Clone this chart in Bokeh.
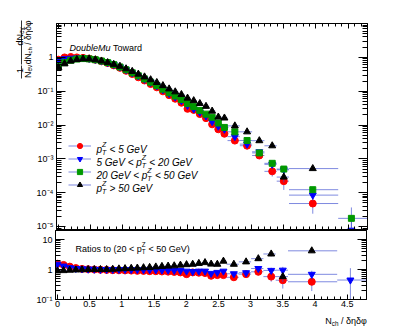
import math
import numpy as np
from bokeh.plotting import figure
from bokeh.layouts import column, row
from bokeh.models import (Range1d, FixedTicker, LogAxis, LinearAxis, Label, BoxAnnotation,
                          CustomJSTickFormatter, Legend, LegendItem, ColumnDataSource)
from bokeh.embed import file_html
from bokeh.resources import INLINE

# ---------------- data ----------------
x_center = [0.000, 0.095, 0.191, 0.286, 0.382, 0.477, 0.573, 0.668, 0.764, 0.859,
            0.955, 1.050, 1.146, 1.241, 1.337, 1.432, 1.528, 1.623, 1.719, 1.814,
            1.910, 2.005, 2.101, 2.196, 2.292, 2.387, 2.483, 2.578, 2.740, 2.930,
            3.120, 3.320, 3.500, 3.950, 4.550]
x_edges = [-0.048, 0.048, 0.143, 0.239, 0.334, 0.430, 0.525, 0.621, 0.716, 0.812,
           0.907, 1.003, 1.098, 1.194, 1.289, 1.385, 1.480, 1.576, 1.671, 1.767,
           1.862, 1.958, 2.053, 2.149, 2.244, 2.340, 2.435, 2.531, 2.626, 2.817,
           3.008, 3.199, 3.390, 3.581, 4.345, 4.823]

red_vals = [0.853, 0.994, 1.025, 0.997, 0.966, 0.918, 0.850, 0.764, 0.679, 0.580,
            0.489, 0.400, 0.322, 0.257, 0.207, 0.163, 0.130, 0.0989, 0.0765, 0.0598,
            0.0456, 0.0301, 0.0280, 0.0211, 0.0160, 0.0105, 0.00748, 0.00553, 0.00347, 0.00245,
            0.00126, 4.29e-4, 2.2e-4, 4.8e-5, float("nan")]
blue_vals = [0.825, 0.910, 0.943, 0.961, 0.966, 0.927, 0.867, 0.780, 0.700, 0.610,
             0.520, 0.430, 0.3465, 0.282, 0.225, 0.181, 0.1436, 0.110, 0.0855, 0.0670,
             0.0524, 0.0378, 0.0298, 0.0238, 0.0185, 0.0126, 0.0092, 0.00748, 0.00454, 0.00273,
             0.00162, 6.9e-4, 4.75e-4, 8.5e-5, 7.8e-6]
green_vals = [0.55, 0.70, 0.82, 0.89, 0.92, 0.90, 0.85, 0.78, 0.70, 0.61,
              0.52, 0.43, 0.35, 0.285, 0.23, 0.185, 0.148, 0.115, 0.090, 0.072,
              0.057, 0.043, 0.035, 0.027, 0.021, 0.017, 0.0115, 0.0085, 0.0063, 0.0035,
              0.0015, 7.4e-4, 5.0e-4, 1.23e-4, 1.75e-5]
black_vals = [0.495, 0.644, 0.779, 0.863, 0.902, 0.900, 0.850, 0.780, 0.700, 0.622,
              0.546, 0.460, 0.385, 0.319, 0.2645, 0.218, 0.1806, 0.146, 0.117, 0.0958,
              0.0798, 0.0624, 0.0525, 0.0432, 0.0357, 0.0258, 0.01725, 0.01615, 0.00945, 0.0063,
              0.00345, 0.00244, 2.9e-4, 5.17e-4, float("nan")]

red_rel = [0.02, 0.02, 0.02, 0.02, 0.02, 0.02, 0.02, 0.02, 0.02, 0.02,
           0.02, 0.02, 0.02, 0.025, 0.025, 0.03, 0.03, 0.035, 0.04, 0.045,
           0.05, 0.06, 0.07, 0.08, 0.09, 0.12, 0.14, 0.16, 0.12, 0.15,
           0.20, 0.30, 0.45, 0.50, 0.0]
blue_rel = [0.02, 0.02, 0.02, 0.02, 0.02, 0.02, 0.02, 0.02, 0.02, 0.02,
            0.02, 0.02, 0.02, 0.02, 0.025, 0.025, 0.03, 0.03, 0.035, 0.04,
            0.045, 0.05, 0.06, 0.07, 0.08, 0.10, 0.11, 0.12, 0.10, 0.12,
            0.15, 0.20, 0.25, 0.30, 1.00]
green_rel = [0.02, 0.02, 0.02, 0.02, 0.02, 0.02, 0.02, 0.02, 0.02, 0.02,
             0.02, 0.02, 0.02, 0.02, 0.02, 0.025, 0.025, 0.03, 0.03, 0.035,
             0.04, 0.045, 0.05, 0.06, 0.07, 0.08, 0.09, 0.10, 0.08, 0.10,
             0.12, 0.12, 0.15, 0.10, 1.10]
black_rel = [0.03, 0.03, 0.03, 0.03, 0.03, 0.03, 0.03, 0.03, 0.03, 0.03,
             0.03, 0.03, 0.03, 0.03, 0.03, 0.03, 0.035, 0.035, 0.04, 0.04,
             0.045, 0.05, 0.05, 0.06, 0.06, 0.07, 0.08, 0.08, 0.07, 0.08,
             0.09, 0.12, 0.30, 0.10, 0.0]

series_colors = ["#ff0000", "#0000ff", "#009900", "#000000"]
series_markers = ["circle", "inverted_triangle", "square", "triangle"]
series_sizes = [7, 7, 6, 7]

y_top_ticks = [1e-5, 1e-4, 1e-3, 1e-2, 1e-1, 1.0]
y_bot_ticks = [0.1, 1.0, 10.0]
x_ticks = [0.0, 0.5, 1.0, 1.5, 2.0, 2.5, 3.0, 3.5, 4.0, 4.5]

FONT = "Liberation Sans"
ERR_COLOR = "#3a4bd0"

# layout geometry (pixels)
LEFT_W = 33          # strip holding the y-axis title
FRAME_W = 311
BORDER_L = 22
BORDER_R = 40
TOP_B, TOP_H = 23, 206
BOT_H, BOT_B = 69, 13
TITLE_H = 16
TOTAL_H = TOP_B + TOP_H + 1 + BOT_H + BOT_B + TITLE_H

# ---------------- helpers ----------------
W = {' ': 278, '/': 278, '(': 333, ')': 333, '<': 584, '>': 584, 'G': 778, 'e': 556,
     'V': 667, 'p': 556, 'Z': 611, 'T': 611, 'R': 722, 'a': 556, 't': 278, 'i': 222,
     'o': 556, 's': 500, 'N': 722, 'c': 500, 'h': 556, 'd': 556, 'v': 500, 'D': 722,
     'u': 556, 'b': 556, 'l': 222, 'M': 833, 'w': 722, 'r': 333, 'φ': 620}


def tw(s, size):
    return sum(W.get(c, 556) for c in s) * size / 1000.0


def rich(fig, pieces, x, y, size, angle=0.0, align="left", style="normal", sub_dn=0.3):
    ax, ay = math.cos(angle), math.sin(angle)
    dx, dy = math.sin(angle), -math.cos(angle)

    def pw(p):
        if p[0] == "n":
            return tw(p[1], size)
        if p[0] == "sub":
            return tw(p[1], size * 0.7)
        return max(tw(p[1], size * 0.7), tw(p[2], size * 0.7)) + size * 0.05

    total = sum(pw(p) for p in pieces)
    pos = {"left": 0.0, "center": -total / 2.0, "right": -total}[align]

    def add(text, along, down, sz, st):
        lead = len(text) - len(text.lstrip(" "))
        along += tw(" " * lead, sz)
        text = text.strip(" ")
        if not text:
            return
        fig.add_layout(Label(x=x + ax * along + dx * down, y=y + ay * along + dy * down,
                             x_units="screen", y_units="screen", text=text, angle=angle,
                             text_font=FONT, text_font_size=f"{sz:.1f}px", text_font_style=st,
                             text_align="left", text_baseline="alphabetic", text_color="black"))

    for p in pieces:
        st = p[2] if (p[0] == "n" and len(p) > 2) else style
        if p[0] == "n":
            add(p[1], pos, 0.0, size, st)
        elif p[0] == "sub":
            add(p[1], pos, sub_dn * size, size * 0.7, style)
        else:
            add(p[1], pos, -0.45 * size, size * 0.7, style)
            add(p[2], pos, 0.32 * size, size * 0.7, style)
        pos += pw(p)


log_fmt = CustomJSTickFormatter(code="""
const e = Math.round(Math.log10(tick));
if (e === 0) return "1";
if (e === 1) return "10";
const m = {"-":"\\u207b","0":"\\u2070","1":"\\u00b9","2":"\\u00b2","3":"\\u00b3","4":"\\u2074",
           "5":"\\u2075","6":"\\u2076","7":"\\u2077","8":"\\u2078","9":"\\u2079"};
return "10" + String(e).split("").map(c => m[c]).join("");
""")
lin_fmt = CustomJSTickFormatter(code="return String(Math.round(tick*10)/10);")
no_fmt = CustomJSTickFormatter(code="return '';")


def log_minors(lo_exp, hi_exp):
    return [m * 10.0 ** e for e in range(lo_exp, hi_exp) for m in range(2, 10)]


x_minor = [round(0.1 * i, 2) for i in range(0, 48)]


def style_axis(axis, labels, maj, mnr):
    axis.major_tick_in = maj
    axis.major_tick_out = 0
    axis.minor_tick_in = mnr
    axis.minor_tick_out = 0
    axis.axis_line_color = "black"
    axis.major_tick_line_color = "black"
    axis.minor_tick_line_color = "black"
    axis.major_label_text_font = FONT
    axis.major_label_text_font_size = "9px"
    axis.major_label_text_color = "black"
    axis.major_label_standoff = 3 if labels else 0


def base_fig(yrange, fh, top, bottom):
    p = figure(x_range=Range1d(-0.03, 4.80), y_range=yrange, y_axis_type="log",
               frame_width=FRAME_W, frame_height=fh, min_border_left=BORDER_L,
               min_border_right=BORDER_R, min_border_top=top, min_border_bottom=bottom,
               toolbar_location=None, output_backend="svg")
    p.frame_align = False
    p.xgrid.visible = False
    p.ygrid.visible = False
    p.outline_line_color = "black"
    p.outline_line_alpha = 1.0
    p.background_fill_color = "white"
    p.border_fill_color = "white"
    return p


def text_fig(w, h):
    f = figure(x_range=Range1d(0, 1), y_range=Range1d(0, 1), frame_width=w, frame_height=h,
               min_border=0, toolbar_location=None, output_backend="svg",
               x_axis_location=None, y_axis_location=None)
    f.frame_align = False
    f.xgrid.visible = False
    f.ygrid.visible = False
    f.outline_line_color = None
    f.background_fill_color = "white"
    f.border_fill_color = "white"
    return f


def draw_series(p, xs, ys, rel, color, marker, size):
    ys = np.array(ys, dtype=float)
    err = ys * np.array(rel, dtype=float)
    lo = ys - err
    lo = np.where(lo > 0, lo, 1e-12)
    hi = ys + err
    src = ColumnDataSource(dict(x=xs, y=ys, x0=x_edges[:-1], x1=x_edges[1:], lo=lo, hi=hi))
    h = p.segment(x0="x0", y0="y", x1="x1", y1="y", source=src,
                  line_color=ERR_COLOR, line_alpha=0.65, line_width=1)
    p.segment(x0="x", y0="lo", x1="x", y1="hi", source=src,
              line_color=ERR_COLOR, line_alpha=0.65, line_width=1)
    s = p.scatter(x="x", y="y", source=src, marker=marker, size=size,
                  fill_color=color, line_color=color)
    return h, s


# ---------------- top panel ----------------
p1 = base_fig(Range1d(8.2e-6, 10.0), TOP_H, TOP_B, 1)
style_axis(p1.yaxis[0], True, 9, 5)
p1.yaxis[0].ticker = FixedTicker(ticks=y_top_ticks, minor_ticks=log_minors(-6, 1))
p1.yaxis[0].formatter = log_fmt
style_axis(p1.xaxis[0], False, 5, 3)
p1.xaxis[0].ticker = FixedTicker(ticks=x_ticks, minor_ticks=x_minor)
p1.xaxis[0].formatter = no_fmt
ra = LogAxis(ticker=FixedTicker(ticks=y_top_ticks, minor_ticks=log_minors(-6, 1)), formatter=no_fmt)
style_axis(ra, False, 9, 5)
p1.add_layout(ra, "right")
ta = LinearAxis(ticker=FixedTicker(ticks=x_ticks, minor_ticks=x_minor), formatter=no_fmt)
style_axis(ta, False, 5, 3)
p1.add_layout(ta, "above")

all_vals = [red_vals, blue_vals, green_vals, black_vals]
all_rel = [red_rel, blue_rel, green_rel, black_rel]
items = []
for vals, rel, col, mk, sz in zip(all_vals, all_rel, series_colors, series_markers, series_sizes):
    h, s = draw_series(p1, x_center, vals, rel, col, mk, sz)
    items.append(LegendItem(label=" ", renderers=[h, s]))

leg = Legend(items=items, location=(12, 38), glyph_width=23, glyph_height=13,
             label_height=13, label_width=0, label_text_font_size="1px", label_standoff=0,
             spacing=0, padding=0, margin=0, border_line_color=None,
             background_fill_alpha=0.0)
p1.add_layout(leg, "center")

FB = TOP_B + TOP_H       # image y of the top frame bottom
FL = LEFT_W + BORDER_L   # image x of the frame left

LS = 10.0
rows_y = [145, 158, 171, 184]
legend_pieces = [
    [("n", "p"), ("ss", "Z", "T"), ("n", " < 5 GeV")],
    [("n", "5 GeV < p"), ("ss", "Z", "T"), ("n", " < 20 GeV")],
    [("n", "20 GeV < p"), ("ss", "Z", "T"), ("n", " < 50 GeV")],
    [("n", "p"), ("ss", "Z", "T"), ("n", " > 50 GeV")],
]
for ry, pcs in zip(rows_y, legend_pieces):
    rich(p1, pcs, 95 - FL, FB - (ry + 0.35 * LS), LS, style="italic")

rich(p1, [("n", "DoubleMu", "italic"), ("n", " Toward", "normal")], 68 - FL, FB - 47, 9)

# ---------------- ratio panel ----------------
p2 = base_fig(Range1d(0.1, 20.0), BOT_H, 0, BOT_B)
style_axis(p2.yaxis[0], True, 9, 5)
p2.yaxis[0].ticker = FixedTicker(ticks=y_bot_ticks, minor_ticks=log_minors(-1, 2))
p2.yaxis[0].formatter = log_fmt
style_axis(p2.xaxis[0], True, 5, 3)
p2.xaxis[0].ticker = FixedTicker(ticks=x_ticks, minor_ticks=x_minor)
p2.xaxis[0].formatter = lin_fmt
p2.xaxis[0].major_label_standoff = 1
ra2 = LogAxis(ticker=FixedTicker(ticks=y_bot_ticks, minor_ticks=log_minors(-1, 2)), formatter=no_fmt)
style_axis(ra2, False, 9, 5)
p2.add_layout(ra2, "right")

g = np.array(green_vals)
g_rel = np.array(green_rel)
for idx in [0, 1, 3]:
    v = np.array(all_vals[idx]) / g
    r = np.sqrt(np.array(all_rel[idx]) ** 2 + g_rel ** 2)
    draw_series(p2, x_center, list(v), list(r), series_colors[idx], series_markers[idx],
                series_sizes[idx])

FB2 = TOP_B + TOP_H + 1 + BOT_H
rich(p2, [("n", "Ratios to (20 < p"), ("ss", "Z", "T"), ("n", " < 50 GeV)")], 75 - FL, FB2 - 248, 9)

# ---------------- x-axis title strip ----------------
xt = text_fig(BORDER_L + FRAME_W + BORDER_R, TITLE_H)
rich(xt, [("n", "N"), ("sub", "ch"), ("n", " / δηδφ")], 366 - LEFT_W, TITLE_H - (320 - (FB2 + BOT_B)),
     9, align="right")

# ---------------- y-axis title strip ----------------
yt = text_fig(LEFT_W, TOTAL_H)
YS = 9.0
rich(yt, [("n", "1")], 19.5, TOTAL_H - 70, YS, angle=math.pi / 2, align="center")
rich(yt, [("n", "N"), ("sub", "ev")], 27.5, TOTAL_H - 71, YS, angle=math.pi / 2, align="center",
     sub_dn=0.22)
rich(yt, [("n", "dN"), ("sub", "ev")], 19.5, TOTAL_H - 36, YS, angle=math.pi / 2, align="center",
     sub_dn=0.22)
rich(yt, [("n", "dN"), ("sub", "ch"), ("n", " / δηδφ")], 27.5, TOTAL_H - 42, 8.5,
     angle=math.pi / 2, align="center", sub_dn=0.22)
yt.add_layout(BoxAnnotation(left=20.6, right=21.4, bottom=TOTAL_H - 78, top=TOTAL_H - 65,
                            left_units="screen", right_units="screen", bottom_units="screen",
                            top_units="screen", fill_color="black", fill_alpha=1.0,
                            line_color=None))
yt.add_layout(BoxAnnotation(left=20.6, right=21.4, bottom=TOTAL_H - 64, top=TOTAL_H - 20,
                            left_units="screen", right_units="screen", bottom_units="screen",
                            top_units="screen", fill_color="black", fill_alpha=1.0,
                            line_color=None))

layout = row(yt, column(p1, p2, xt, spacing=0), spacing=0)
open("out.html", "w").write(file_html(layout, INLINE))
